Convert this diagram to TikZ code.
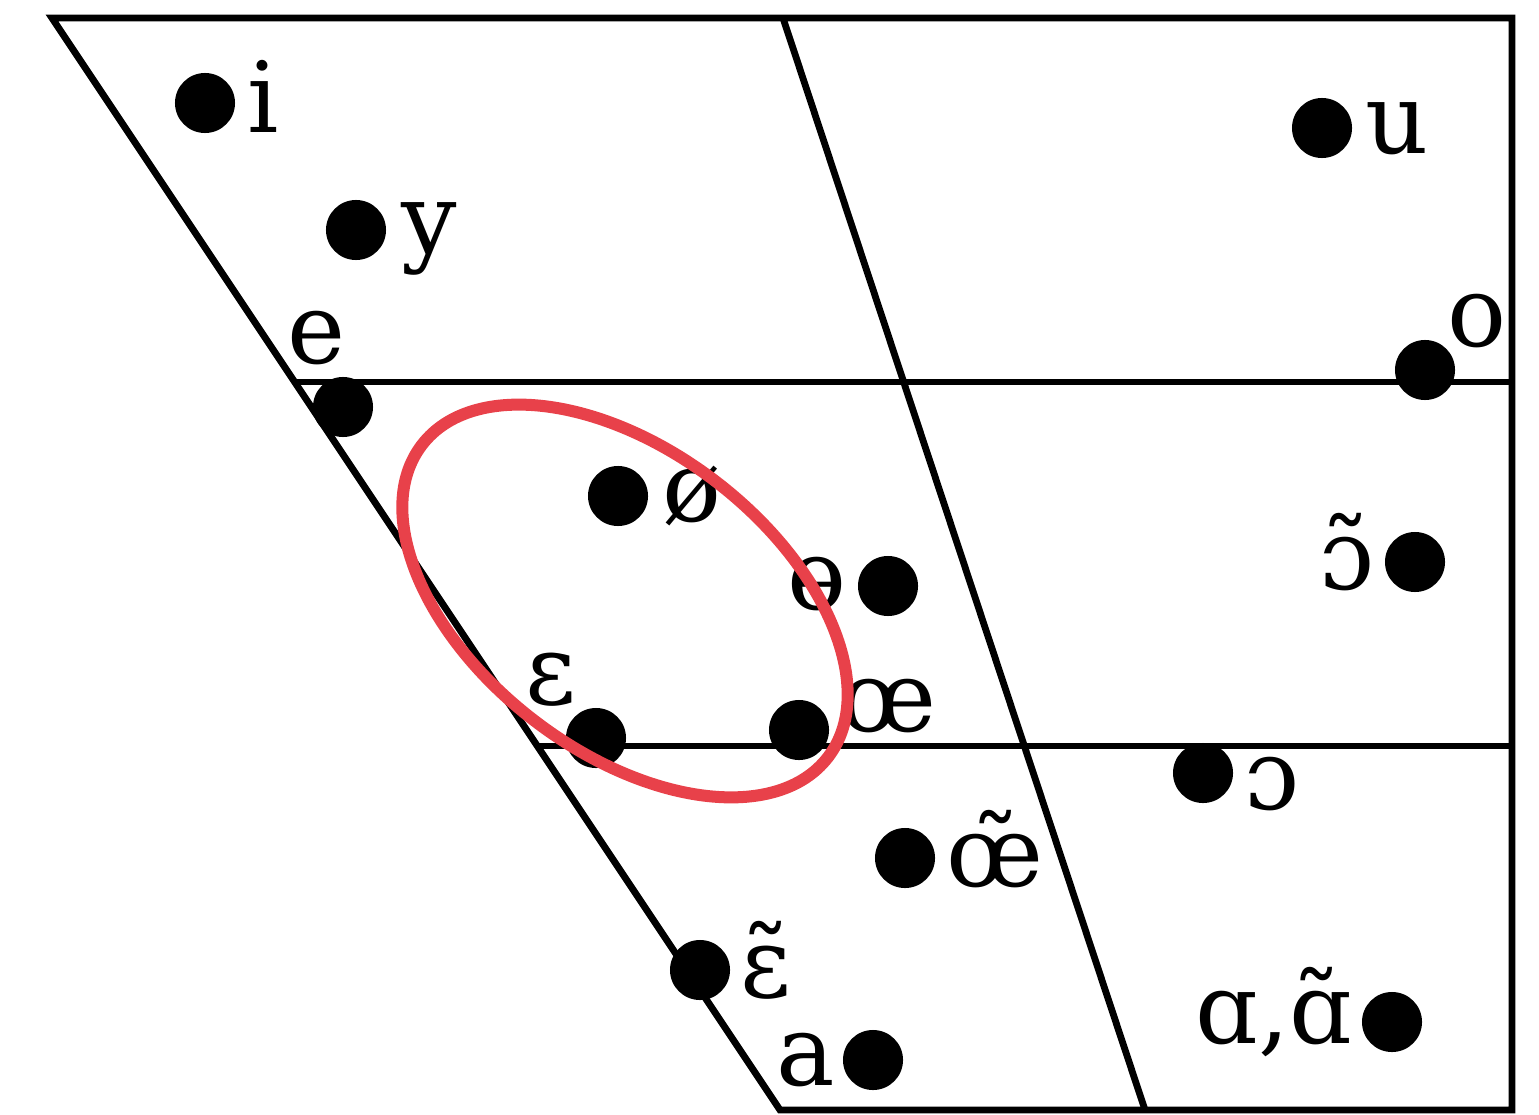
\documentclass[tikz,border=0pt]{standalone}
\usepackage{fontspec}
\setmainfont{DejaVu Serif}
\definecolor{ringred}{RGB}{232,65,74}
\begin{document}
\begin{tikzpicture}[x=0.01cm,y=-0.01cm,
  frame/.style={line width=0.068cm, line join=miter, line cap=butt},
  vdot/.style={circle, fill=black, inner sep=0pt, minimum size=0.6cm},
  lbl/.style={anchor=base, inner sep=0pt, font=\fontsize{27.9}{30}\selectfont},
  ring/.style={draw=ringred, line width=0.12cm}
]
\useasboundingbox (0,0) rectangle (1539,1115);
% frame
\coordinate (TL) at (52,18);
\coordinate (TR) at (1512,18);
\coordinate (BR) at (1512,1110);
\coordinate (BL) at (780,1110);
\coordinate (MT) at (783,18);
\coordinate (MB) at (1145,1110);
\coordinate (H1L) at (295,382);
\coordinate (H1R) at (1512,382);
\coordinate (H2L) at (537,746);
\coordinate (H2R) at (1512,746);
\draw[frame] (TL) -- (TR) -- (BR) -- (BL) -- cycle;
\draw[frame] (MT) -- (MB);
\draw[frame] (H1L) -- (H1R);
\draw[frame] (H2L) -- (H2R);
% dots
\node[vdot] (di) at (205,103) {};
\node[vdot] (dy) at (356,230) {};
\node[vdot] (de) at (343,407) {};
\node[vdot] (doslash) at (618,496) {};
\node[vdot] (dbarred) at (888,586) {};
\node[vdot] (deps) at (596,738) {};
\node[vdot] (doe) at (799,730) {};
\node[vdot] (doenas) at (905,858) {};
\node[vdot] (depsnas) at (700,970) {};
\node[vdot] (da) at (873,1060) {};
\node[vdot] (du) at (1322,128) {};
\node[vdot] (do) at (1425,370) {};
\node[vdot] (dopennas) at (1415,562) {};
\node[vdot] (dopen) at (1203,773) {};
\node[vdot] (dback) at (1392,1022) {};
% labels
\node[lbl] (li) at (263,132) {i};
\node[lbl] (ly) at (429,253) {y};
\node[lbl] (le) at (317,363) {e};
\node[lbl] (loslash) at (692,521) {ø};
\node[lbl] (lbarred) at (817,609) {ɵ};
\node[lbl] (leps) at (551,704) {ɛ};
\node[lbl] (loe) at (888,731) {œ};
\node[lbl] (loenas) at (995,886) {œ̃};
\node[lbl] (lepsnas) at (766,997) {ɛ̃};
\node[lbl] (la) at (806,1085) {a};
\node[lbl] (lu) at (1397,153) {u};
\node[lbl] (lo) at (1477,346) {o};
\node[lbl] (lopennas) at (1347,589) {ɔ̃};
\node[lbl] (lopen) at (1272,809) {ɔ};
\node[lbl] (lback) at (1274,1043) {ɑ,ɑ̃};
% red ring
\coordinate (rc) at (625,601);
\draw[ring, rotate around={-37.6:(rc)}] (rc) ellipse [x radius=2.56cm, y radius=1.5cm];
\end{tikzpicture}
\end{document}
